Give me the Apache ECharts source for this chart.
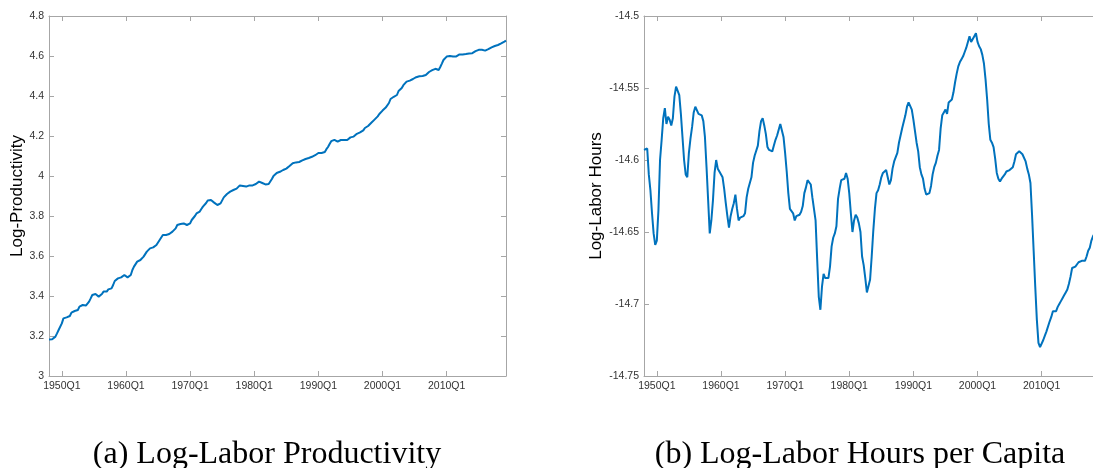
<!DOCTYPE html>
<html>
<head>
<meta charset="utf-8">
<script src="https://cdn.jsdelivr.net/npm/echarts@6/dist/echarts.min.js"></script>
<style>
  html, body { margin: 0; padding: 0; background: #fff; }
  #chart { width: 1093px; height: 468px; }
</style>
</head>
<body>
<div id="chart"></div>
<script>
// quarterly sample, 1948Q1 .. 2019Q2
var firstYear = 1948;
var quarterCount = 286;

// log labor productivity, one value per quarter
var productivity = [
  3.183, 3.183, 3.184, 3.185, 3.197, 3.213, 3.230, 3.238, 3.263, 3.288,
  3.297, 3.293, 3.297, 3.300, 3.317, 3.322, 3.325, 3.317, 3.330, 3.347,
  3.350, 3.355, 3.353, 3.352, 3.355, 3.372, 3.388, 3.405, 3.413, 3.410,
  3.400, 3.397, 3.400, 3.410, 3.422, 3.430, 3.422, 3.433, 3.427, 3.438,
  3.455, 3.475, 3.480, 3.488, 3.488, 3.493, 3.493, 3.505, 3.500, 3.493,
  3.493, 3.505, 3.530, 3.547, 3.555, 3.572, 3.572, 3.580, 3.588, 3.597,
  3.600, 3.622, 3.630, 3.638, 3.638, 3.643, 3.647, 3.655, 3.663, 3.680,
  3.690, 3.705, 3.705, 3.705, 3.708, 3.710, 3.717, 3.722, 3.727, 3.738,
  3.755, 3.763, 3.760, 3.760, 3.763, 3.758, 3.755, 3.755, 3.763, 3.780,
  3.783, 3.800, 3.813, 3.817, 3.822, 3.835, 3.847, 3.853, 3.865, 3.878,
  3.883, 3.880, 3.872, 3.867, 3.860, 3.855, 3.852, 3.863, 3.872, 3.893,
  3.900, 3.910, 3.917, 3.922, 3.927, 3.930, 3.932, 3.937, 3.945, 3.953,
  3.953, 3.950, 3.950, 3.947, 3.947, 3.953, 3.955, 3.953, 3.952, 3.960,
  3.967, 3.972, 3.967, 3.965, 3.963, 3.958, 3.955, 3.960, 3.967, 3.985,
  4.000, 4.010, 4.015, 4.019, 4.021, 4.028, 4.030, 4.034, 4.037, 4.040,
  4.050, 4.057, 4.064, 4.068, 4.068, 4.068, 4.070, 4.072, 4.078, 4.083,
  4.085, 4.088, 4.090, 4.093, 4.096, 4.100, 4.104, 4.108, 4.115, 4.120,
  4.115, 4.111, 4.120, 4.134, 4.145, 4.160, 4.174, 4.181, 4.181, 4.172,
  4.172, 4.175, 4.180, 4.180, 4.180, 4.183, 4.180, 4.190, 4.193, 4.195,
  4.197, 4.204, 4.211, 4.216, 4.218, 4.217, 4.228, 4.240, 4.245, 4.250,
  4.258, 4.266, 4.275, 4.282, 4.290, 4.298, 4.310, 4.318, 4.327, 4.335,
  4.342, 4.343, 4.365, 4.385, 4.392, 4.396, 4.398, 4.405, 4.425, 4.432,
  4.440, 4.454, 4.464, 4.472, 4.474, 4.477, 4.481, 4.485, 4.489, 4.494,
  4.497, 4.499, 4.500, 4.500, 4.500, 4.505, 4.513, 4.520, 4.527, 4.529,
  4.530, 4.536, 4.532, 4.530, 4.545, 4.562, 4.580, 4.590, 4.597, 4.600,
  4.600, 4.599, 4.597, 4.597, 4.598, 4.601, 4.608, 4.610, 4.608, 4.607,
  4.610, 4.613, 4.613, 4.617, 4.614, 4.621, 4.624, 4.629, 4.631, 4.633,
  4.631, 4.628, 4.627, 4.630, 4.634, 4.639, 4.643, 4.647, 4.650, 4.653,
  4.655, 4.659, 4.663, 4.668, 4.672, 4.677
];

// log labor hours per capita, one value per quarter
var hours = [
  -14.593, -14.594, -14.592, -14.610, -14.621, -14.637, -14.651, -14.659, -14.656, -14.635,
  -14.600, -14.586, -14.571, -14.564, -14.575, -14.570, -14.572, -14.576, -14.571, -14.556,
  -14.549, -14.549, -14.555, -14.568, -14.584, -14.600, -14.610, -14.612, -14.595, -14.585,
  -14.577, -14.567, -14.563, -14.563, -14.568, -14.568, -14.569, -14.573, -14.584, -14.605,
  -14.628, -14.651, -14.642, -14.628, -14.609, -14.600, -14.606, -14.608, -14.609, -14.612,
  -14.620, -14.630, -14.639, -14.647, -14.639, -14.634, -14.630, -14.624, -14.634, -14.642,
  -14.640, -14.639, -14.639, -14.637, -14.626, -14.620, -14.619, -14.612, -14.602, -14.597,
  -14.596, -14.590, -14.580, -14.573, -14.571, -14.576, -14.582, -14.591, -14.593, -14.593,
  -14.594, -14.590, -14.586, -14.583, -14.579, -14.575, -14.575, -14.584, -14.595, -14.608,
  -14.623, -14.634, -14.634, -14.637, -14.642, -14.639, -14.638, -14.638, -14.636, -14.632,
  -14.623, -14.619, -14.614, -14.613, -14.617, -14.626, -14.627, -14.642, -14.669, -14.695,
  -14.704, -14.688, -14.679, -14.682, -14.683, -14.682, -14.674, -14.660, -14.654, -14.651,
  -14.646, -14.627, -14.620, -14.614, -14.613, -14.613, -14.609, -14.613, -14.623, -14.637,
  -14.650, -14.642, -14.638, -14.640, -14.644, -14.650, -14.667, -14.673, -14.682, -14.692,
  -14.693, -14.683, -14.667, -14.649, -14.634, -14.623, -14.621, -14.617, -14.612, -14.609,
  -14.608, -14.607, -14.612, -14.617, -14.614, -14.606, -14.601, -14.598, -14.595, -14.588,
  -14.588, -14.578, -14.577, -14.569, -14.563, -14.560, -14.561, -14.565, -14.572, -14.580,
  -14.588, -14.594, -14.605, -14.610, -14.613, -14.620, -14.624, -14.624, -14.623, -14.618,
  -14.610, -14.605, -14.602, -14.597, -14.593, -14.578, -14.569, -14.567, -14.565, -14.568,
  -14.560, -14.560, -14.558, -14.553, -14.546, -14.540, -14.535, -14.532, -14.530, -14.528,
  -14.525, -14.522, -14.522, -14.514, -14.518, -14.517, -14.514, -14.512, -14.518, -14.521,
  -14.523, -14.527, -14.533, -14.544, -14.558, -14.575, -14.586, -14.588, -14.591, -14.599,
  -14.609, -14.613, -14.615, -14.613, -14.612, -14.610, -14.608, -14.608, -14.607, -14.606,
  -14.605, -14.601, -14.596, -14.595, -14.594, -14.595, -14.596, -14.597, -14.601, -14.606,
  -14.610, -14.616, -14.638, -14.663, -14.688, -14.711, -14.727, -14.730, -14.731, -14.725,
  -14.722, -14.719, -14.718, -14.712, -14.709, -14.705, -14.706, -14.705, -14.702, -14.700,
  -14.698, -14.696, -14.694, -14.692, -14.690, -14.686, -14.681, -14.675, -14.676, -14.674,
  -14.675, -14.671, -14.671, -14.670, -14.671, -14.670, -14.667, -14.663, -14.661, -14.656,
  -14.653, -14.651, -14.649, -14.647, -14.646, -14.644
];

var captions = ['(a) Log-Labor Productivity', '(b) Log-Labor Hours per Capita'];
var yNames = ['Log-Productivity', 'Log-Labor Hours'];

var quarters = [];
for (var i = 0; i < quarterCount; i++) {
  quarters.push((firstYear + Math.floor(i / 4)) + 'Q' + (i % 4 + 1));
}

// ticks only on decade first quarters: 1950Q1, 1960Q1, ...
function decadeTick(idx, val) {
  return /0Q1$/.test(val);
}

var lineColor = '#0072BD';
var axisColor = '#a6a6a6';
var labelColor = '#333';
var sans = 'Liberation Sans, Arial, Helvetica, sans-serif';
var serif = 'Liberation Serif, Times New Roman, serif';

function xAxes(gridIndex) {
  return [{
    type: 'category', gridIndex: gridIndex, data: quarters, boundaryGap: false,
    axisLine: { lineStyle: { color: axisColor, width: 1 } },
    axisTick: { inside: true, length: 5, interval: decadeTick, lineStyle: { color: axisColor } },
    axisLabel: { interval: decadeTick, color: labelColor, fontSize: 10.5, fontFamily: sans, margin: 5 },
    splitLine: { show: false }
  }, {
    type: 'category', gridIndex: gridIndex, position: 'top', data: quarters, boundaryGap: false,
    axisLine: { lineStyle: { color: axisColor, width: 1 } },
    axisTick: { inside: true, length: 5, interval: decadeTick, lineStyle: { color: axisColor } },
    axisLabel: { show: false },
    splitLine: { show: false }
  }];
}

function yAxes(gridIndex, min, max, step, name, gap) {
  return [{
    type: 'value', gridIndex: gridIndex, min: min, max: max, interval: step,
    name: name, nameLocation: 'middle', nameGap: gap,
    nameTextStyle: { color: '#000', fontSize: 17, fontFamily: sans },
    axisLine: { show: true, lineStyle: { color: axisColor, width: 1 } },
    axisTick: { show: true, inside: true, length: 5, lineStyle: { color: axisColor } },
    axisLabel: { color: labelColor, fontSize: 10.5, fontFamily: sans, margin: 5 },
    splitLine: { show: false }
  }, {
    type: 'value', gridIndex: gridIndex, position: 'right', min: min, max: max, interval: step,
    axisLine: { show: true, lineStyle: { color: axisColor, width: 1 } },
    axisTick: { show: true, inside: true, length: 5, lineStyle: { color: axisColor } },
    axisLabel: { show: false },
    splitLine: { show: false }
  }];
}

var chart = echarts.init(document.getElementById('chart'), null, { renderer: 'canvas' });

chart.setOption({
  backgroundColor: '#fff',
  animation: false,
  title: [{
    text: captions[0], left: 267, top: 439, textAlign: 'center', padding: 0,
    textStyle: { fontFamily: serif, fontWeight: 'normal', fontSize: 32, color: '#000' }
  }, {
    text: captions[1], left: 860, top: 439, textAlign: 'center', padding: 0,
    textStyle: { fontFamily: serif, fontWeight: 'normal', fontSize: 32, color: '#000' }
  }],
  grid: [
    { left: 49, top: 16, width: 457, height: 360, outerBoundsMode: 'none' },
    // right panel runs past the page edge, as in the cropped original
    { left: 644, top: 16, width: 457, height: 360, outerBoundsMode: 'none' }
  ],
  xAxis: xAxes(0).concat(xAxes(1)),
  yAxis: yAxes(0, 3, 4.8, 0.2, yNames[0], 23).concat(yAxes(1, -14.75, -14.5, 0.05, yNames[1], 39)),
  series: [{
    type: 'line', xAxisIndex: 0, yAxisIndex: 0, data: productivity,
    showSymbol: false, lineStyle: { color: lineColor, width: 2 }, itemStyle: { color: lineColor }
  }, {
    type: 'line', xAxisIndex: 2, yAxisIndex: 2, data: hours,
    showSymbol: false, lineStyle: { color: lineColor, width: 2 }, itemStyle: { color: lineColor }
  }]
});
</script>
</body>
</html>
